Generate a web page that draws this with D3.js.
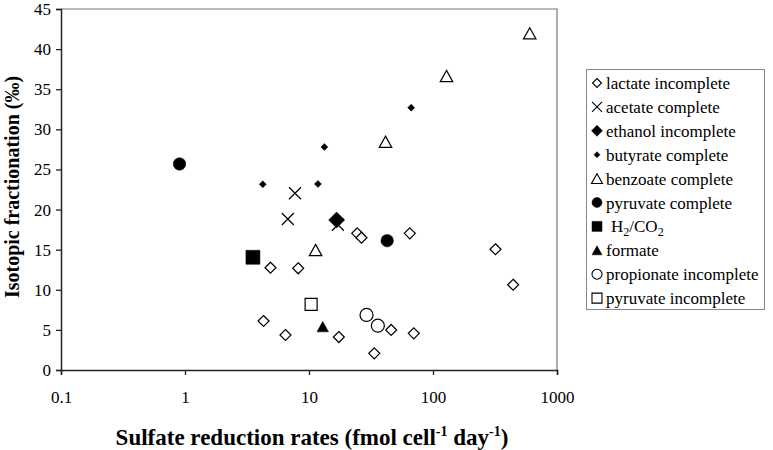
<!DOCTYPE html>
<html>
<head>
<meta charset="utf-8">
<script src="https://cdn.jsdelivr.net/npm/d3@7"></script>
<style>
  html, body { margin: 0; padding: 0; background: #fff; }
  svg { display: block; }
  text { font-family: "Liberation Serif", "Times New Roman", serif; fill: #000; }
</style>
</head>
<body>
<svg id="chart" width="773" height="450"></svg>
<script>
// ---------- data (x = sulfate reduction rate, y = fractionation) ----------
const lactateIncomplete = [
  [4.89, 12.75], [8.18, 12.68], [4.30, 6.11], [6.46, 4.36], [17.4, 4.11],
  [33.6, 2.08], [36.1, 5.48], [46.0, 4.99], [70.0, 4.57], [24.5, 17.04],
  [26.5, 16.49], [65.0, 17.04], [319, 15.05], [443, 10.63]
];
const acetateComplete = [[7.71, 22.03], [6.75, 18.82], [17.1, 18.1]];
const ethanolIncomplete = [[16.7, 18.7]];
const butyrateComplete = [[4.24, 23.15], [11.8, 23.19], [13.3, 27.8], [66.7, 32.7]];
const benzoateComplete = [[11.3, 14.96], [41.4, 28.45], [128.5, 36.65], [603, 41.97]];
const pyruvateComplete = [[0.903, 25.68], [42.7, 16.12]];
const h2co2 = [[3.53, 14.05]];
const formate = [[12.9, 5.4]];
const propionateIncomplete = [[29.1, 6.86], [35.9, 5.52]];
const pyruvateIncomplete = [[10.4, 8.17]];

const xTickValues = [0.1, 1, 10, 100, 1000];
const xTickLabels = ["0.1", "1", "10", "100", "1000"];
const yTickValues = [0, 5, 10, 15, 20, 25, 30, 35, 40, 45];

// ---------- custom symbol types (size = pixel width) ----------
const symDiamond = { draw(c, s) { const r = s / 2; c.moveTo(0, -r); c.lineTo(r, 0); c.lineTo(0, r); c.lineTo(-r, 0); c.closePath(); } };
const symCross = { draw(c, s) { const r = s / 2; c.moveTo(-r, -r); c.lineTo(r, r); c.moveTo(-r, r); c.lineTo(r, -r); } };
const symTriangle = { draw(c, s) { const r = s / 2, h = s * 0.9; c.moveTo(0, -h / 2); c.lineTo(r, h / 2); c.lineTo(-r, h / 2); c.closePath(); } };
const symCircle = { draw(c, s) { const r = s / 2; c.moveTo(r, 0); c.arc(0, 0, r, 0, 2 * Math.PI); c.closePath(); } };
const symSquare = { draw(c, s) { const r = s / 2; c.rect(-r, -r, s, s); } };

const series = [
  { name: "lactate incomplete", data: lactateIncomplete, type: symDiamond, fill: "#fff", size: 11, lsize: 9 },
  { name: "acetate complete", data: acetateComplete, type: symCross, fill: "none", size: 12, lsize: 10 },
  { name: "ethanol incomplete", data: ethanolIncomplete, type: symDiamond, fill: "#000", size: 16, lsize: 11 },
  { name: "butyrate complete", data: butyrateComplete, type: symDiamond, fill: "#000", size: 7, lsize: 6 },
  { name: "benzoate complete", data: benzoateComplete, type: symTriangle, fill: "#fff", size: 12.5, lsize: 11 },
  { name: "pyruvate complete", data: pyruvateComplete, type: symCircle, fill: "#000", size: 12.5, lsize: 10 },
  { name: "H2/CO2", data: h2co2, type: symSquare, fill: "#000", size: 14, lsize: 10 },
  { name: "formate", data: formate, type: symTriangle, fill: "#000", size: 11.5, lsize: 10 },
  { name: "propionate incomplete", data: propionateIncomplete, type: symCircle, fill: "#fff", size: 13, lsize: 10 },
  { name: "pyruvate incomplete", data: pyruvateIncomplete, type: symSquare, fill: "#fff", size: 12, lsize: 10 }
];

// ---------- layout ----------
const svg = d3.select("#chart");
const plot = { left: 61, right: 557, top: 9, bottom: 370 };

const x = d3.scaleLog().domain([0.1, 1000]).range([plot.left, plot.right]);
const y = d3.scaleLinear().domain([0, 45]).range([plot.bottom, plot.top]);

// frame (top and right)
svg.append("path")
  .attr("d", `M${plot.left},${plot.top}H${plot.right}V${plot.bottom}`)
  .attr("fill", "none").attr("stroke", "#777").attr("stroke-width", 1.2);

// y axis
const yAxis = svg.append("g").attr("transform", `translate(${plot.left},0)`)
  .call(d3.axisLeft(y).tickValues(yTickValues).tickSize(5).tickPadding(5).tickFormat(d3.format("d")));
yAxis.select(".domain").attr("stroke", "#222").attr("stroke-width", 1.5);
yAxis.selectAll(".tick line").attr("stroke", "#222").attr("stroke-width", 1.3);
yAxis.selectAll("text").style("font-family", "Liberation Serif").style("font-size", "17px");

// x axis
const xAxis = svg.append("g").attr("transform", `translate(0,${plot.bottom})`)
  .call(d3.axisBottom(x).tickValues(xTickValues).tickSize(5).tickPadding(16)
    .tickFormat((d, i) => xTickLabels[i]));
xAxis.select(".domain").attr("stroke", "#222").attr("stroke-width", 1.5);
xAxis.selectAll(".tick line").attr("stroke", "#222").attr("stroke-width", 1.3);
xAxis.selectAll("text").style("font-family", "Liberation Serif").style("font-size", "17px");

// markers
series.forEach(s => {
  svg.append("g").selectAll("path").data(s.data).join("path")
    .attr("transform", d => `translate(${x(d[0])},${y(d[1])})`)
    .attr("d", d3.symbol().type(s.type).size(s.size))
    .attr("fill", s.fill)
    .attr("stroke", "#000")
    .attr("stroke-width", s.fill === "#000" ? 0.5 : 1.2);
});

// axis titles
const xt = svg.append("text")
  .attr("x", 312).attr("y", 445)
  .attr("text-anchor", "middle")
  .style("font-weight", "bold").style("font-size", "23px");
xt.append("tspan").text("Sulfate reduction rates (fmol cell");
xt.append("tspan").attr("dy", -9).style("font-size", "14px").text("-1");
xt.append("tspan").attr("dy", 9).text(" day");
xt.append("tspan").attr("dy", -9).style("font-size", "14px").text("-1");
xt.append("tspan").attr("dy", 9).text(")");

svg.append("text")
  .attr("transform", "translate(19,187) rotate(-90)")
  .attr("text-anchor", "middle")
  .style("font-weight", "bold").style("font-size", "20px")
  .text("Isotopic fractionation (‰)");

// legend
const lg = svg.append("g");
lg.append("rect").attr("x", 586.5).attr("y", 69.5).attr("width", 178).attr("height", 240)
  .attr("fill", "#fff").attr("stroke", "#888").attr("stroke-width", 1);
series.forEach((s, i) => {
  const cy = 83 + i * 23.9;
  lg.append("path")
    .attr("transform", `translate(597,${cy})`)
    .attr("d", d3.symbol().type(s.type).size(s.lsize))
    .attr("fill", s.fill).attr("stroke", "#000")
    .attr("stroke-width", s.fill === "#000" ? 0.5 : 1.1);
  const t = lg.append("text").attr("x", 606).attr("y", cy + 6).style("font-size", "17px");
  if (s.name === "H2/CO2") {
    t.attr("x", 611);
    t.append("tspan").text("H");
    t.append("tspan").attr("dy", 4).style("font-size", "12px").text("2");
    t.append("tspan").attr("dy", -4).text("/CO");
    t.append("tspan").attr("dy", 4).style("font-size", "12px").text("2");
  } else {
    t.text(s.name);
  }
});
</script>
</body>
</html>
